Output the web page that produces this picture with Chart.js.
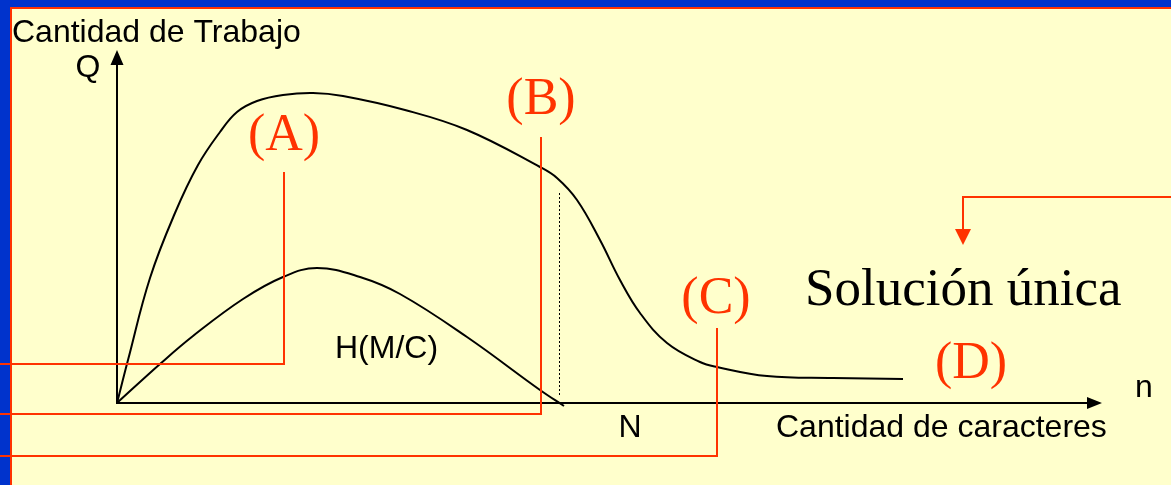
<!DOCTYPE html>
<html>
<head>
<meta charset="utf-8">
<script src="https://cdn.jsdelivr.net/npm/chart.js@4/dist/chart.umd.min.js"></script>
<style>
  html, body { margin: 0; padding: 0; background: #ffffcc; }
  #wrap { width: 1171px; height: 485px; }
</style>
</head>
<body>
<div id="wrap"><canvas id="trabajoChart" width="1171" height="485"></canvas></div>
<script>
// Curva superior: cantidad de trabajo Q frente a cantidad de caracteres n
const upperX = [0, 11, 33, 58, 81, 103, 120, 140, 166, 196, 226, 288, 350, 423, 440, 460, 483, 503, 523, 550, 583, 600, 650, 716, 786];
const upperY = [0, 43, 125, 190, 238, 271, 291, 302, 308, 310, 307, 293, 273, 236, 225, 203, 163, 123, 90, 60, 41, 36, 27, 25, 24];

// Curva inferior H(M/C)
const lowerX = [0, 43, 76, 126, 166, 200, 243, 283, 350, 423, 447];
const lowerY = [0, 39, 67, 104, 126, 135, 126, 109, 66, 13, -3];

// Etiquetas
const regionLabels = ['(A)', '(B)', '(C)', '(D)'];
const yAxisTitle = 'Cantidad de Trabajo';
const xAxisTitle = 'Cantidad de caracteres';
const curveLabel = 'H(M/C)';
const noteText = 'Solución única';

const RED = '#ff3300';
const SANS = '"Liberation Sans", Arial, sans-serif';
const SERIF = '"Liberation Serif", "Times New Roman", serif';

function toPoints(xs, ys) {
    return xs.map((x, i) => ({ x: x, y: ys[i] }));
}

/**
 * Fondo y borde azul/rojo de la diapositiva
 */
const slideBackground = {
    id: 'slideBackground',
    beforeDraw(chart) {
        const ctx = chart.ctx;
        ctx.save();
        ctx.fillStyle = '#ffffcc';
        ctx.fillRect(0, 0, chart.width, chart.height);
        ctx.fillStyle = '#0033cc';
        ctx.fillRect(0, 0, chart.width, 7);
        ctx.fillRect(0, 0, 10, chart.height);
        ctx.fillStyle = RED;
        ctx.fillRect(10, 7, chart.width - 10, 2);
        ctx.fillRect(10, 7, 2, chart.height - 7);
        ctx.restore();
    }
};

/**
 * Ejes con flechas, líneas guía y textos
 */
const diagramParts = {
    id: 'diagramParts',
    beforeDatasetsDraw(chart) {
        const ctx = chart.ctx;
        const xs = chart.scales.x, ys = chart.scales.y;
        const ox = xs.getPixelForValue(0), oy = ys.getPixelForValue(0);
        const yTip = ys.getPixelForValue(353);
        const xTip = xs.getPixelForValue(985);

        ctx.save();
        ctx.strokeStyle = '#000';
        ctx.fillStyle = '#000';
        ctx.lineWidth = 2;
        ctx.beginPath();
        ctx.moveTo(ox, oy);
        ctx.lineTo(ox, yTip + 14);
        ctx.moveTo(ox - 1, oy);
        ctx.lineTo(xTip - 14, oy);
        ctx.stroke();
        // puntas de flecha
        ctx.beginPath();
        ctx.moveTo(ox, yTip);
        ctx.lineTo(ox - 6.5, yTip + 15);
        ctx.lineTo(ox + 6.5, yTip + 15);
        ctx.closePath();
        ctx.moveTo(xTip, oy);
        ctx.lineTo(xTip - 15, oy - 6);
        ctx.lineTo(xTip - 15, oy + 6);
        ctx.closePath();
        ctx.fill();

        // línea punteada en N
        ctx.lineWidth = 1;
        ctx.setLineDash([2, 2]);
        ctx.beginPath();
        ctx.moveTo(Math.round(xs.getPixelForValue(442)) + 0.5, ys.getPixelForValue(210));
        ctx.lineTo(Math.round(xs.getPixelForValue(442)) + 0.5, ys.getPixelForValue(6));
        ctx.stroke();
        ctx.restore();
    },
    afterDatasetsDraw(chart) {
        const ctx = chart.ctx;
        const xs = chart.scales.x, ys = chart.scales.y;
        const px = v => xs.getPixelForValue(v);
        const py = v => ys.getPixelForValue(v);
        const left = 0;

        ctx.save();
        // líneas guía rojas (A), (B), (C)
        ctx.strokeStyle = RED;
        ctx.lineWidth = 2;
        const leaders = [[167, 231, 39], [424, 266, -11], [600, 75, -53]];
        leaders.forEach(([x, top, bottom]) => {
            ctx.beginPath();
            ctx.moveTo(px(x), py(top));
            ctx.lineTo(px(x), py(bottom));
            ctx.lineTo(left, py(bottom));
            ctx.stroke();
        });
        // flecha hacia "Solución única"
        ctx.beginPath();
        ctx.moveTo(chart.width, py(206));
        ctx.lineTo(px(846), py(206));
        ctx.lineTo(px(846), py(174));
        ctx.stroke();
        ctx.fillStyle = RED;
        ctx.beginPath();
        ctx.moveTo(px(846), py(158));
        ctx.lineTo(px(846) - 8, py(174));
        ctx.lineTo(px(846) + 8, py(174));
        ctx.closePath();
        ctx.fill();

        // textos
        ctx.textBaseline = 'alphabetic';
        ctx.fillStyle = '#000';
        ctx.font = '32px ' + SANS;
        ctx.textAlign = 'left';
        ctx.fillText(yAxisTitle, px(-105), py(361));
        ctx.fillText(curveLabel, px(218), py(45));
        ctx.fillText(xAxisTitle, px(659), py(-34));
        ctx.fillText('n', px(1018), py(6));
        ctx.textAlign = 'center';
        ctx.fillText('Q', px(-29), py(326));
        ctx.fillText('N', px(513), py(-34));

        ctx.font = '53px ' + SERIF;
        ctx.textAlign = 'left';
        ctx.fillText(noteText, px(688), py(98));

        ctx.font = '52px ' + SERIF;
        ctx.fillStyle = RED;
        ctx.textAlign = 'center';
        const labelPos = [[167, 253], [424, 289], [599, 90], [854, 25]];
        regionLabels.forEach((t, i) => {
            ctx.fillText(t, px(labelPos[i][0]), py(labelPos[i][1]));
        });
        ctx.restore();
    }
};

new Chart(document.getElementById('trabajoChart').getContext('2d'), {
    type: 'scatter',
    data: {
        datasets: [
            {
                label: 'Q',
                data: toPoints(upperX, upperY),
                showLine: true,
                borderColor: '#000',
                borderWidth: 2,
                pointRadius: 0,
                tension: 0.4,
                clip: false
            },
            {
                label: curveLabel,
                data: toPoints(lowerX, lowerY),
                showLine: true,
                borderColor: '#000',
                borderWidth: 2,
                pointRadius: 0,
                tension: 0.4,
                clip: false
            }
        ]
    },
    options: {
        responsive: false,
        animation: false,
        layout: {
            padding: { left: 117, right: 54, top: 53, bottom: 82 }
        },
        plugins: {
            legend: { display: false },
            tooltip: { enabled: false }
        },
        scales: {
            x: { type: 'linear', min: 0, max: 1000, display: false },
            y: { type: 'linear', min: 0, max: 350, display: false }
        }
    },
    plugins: [slideBackground, diagramParts]
});
</script>
</body>
</html>
